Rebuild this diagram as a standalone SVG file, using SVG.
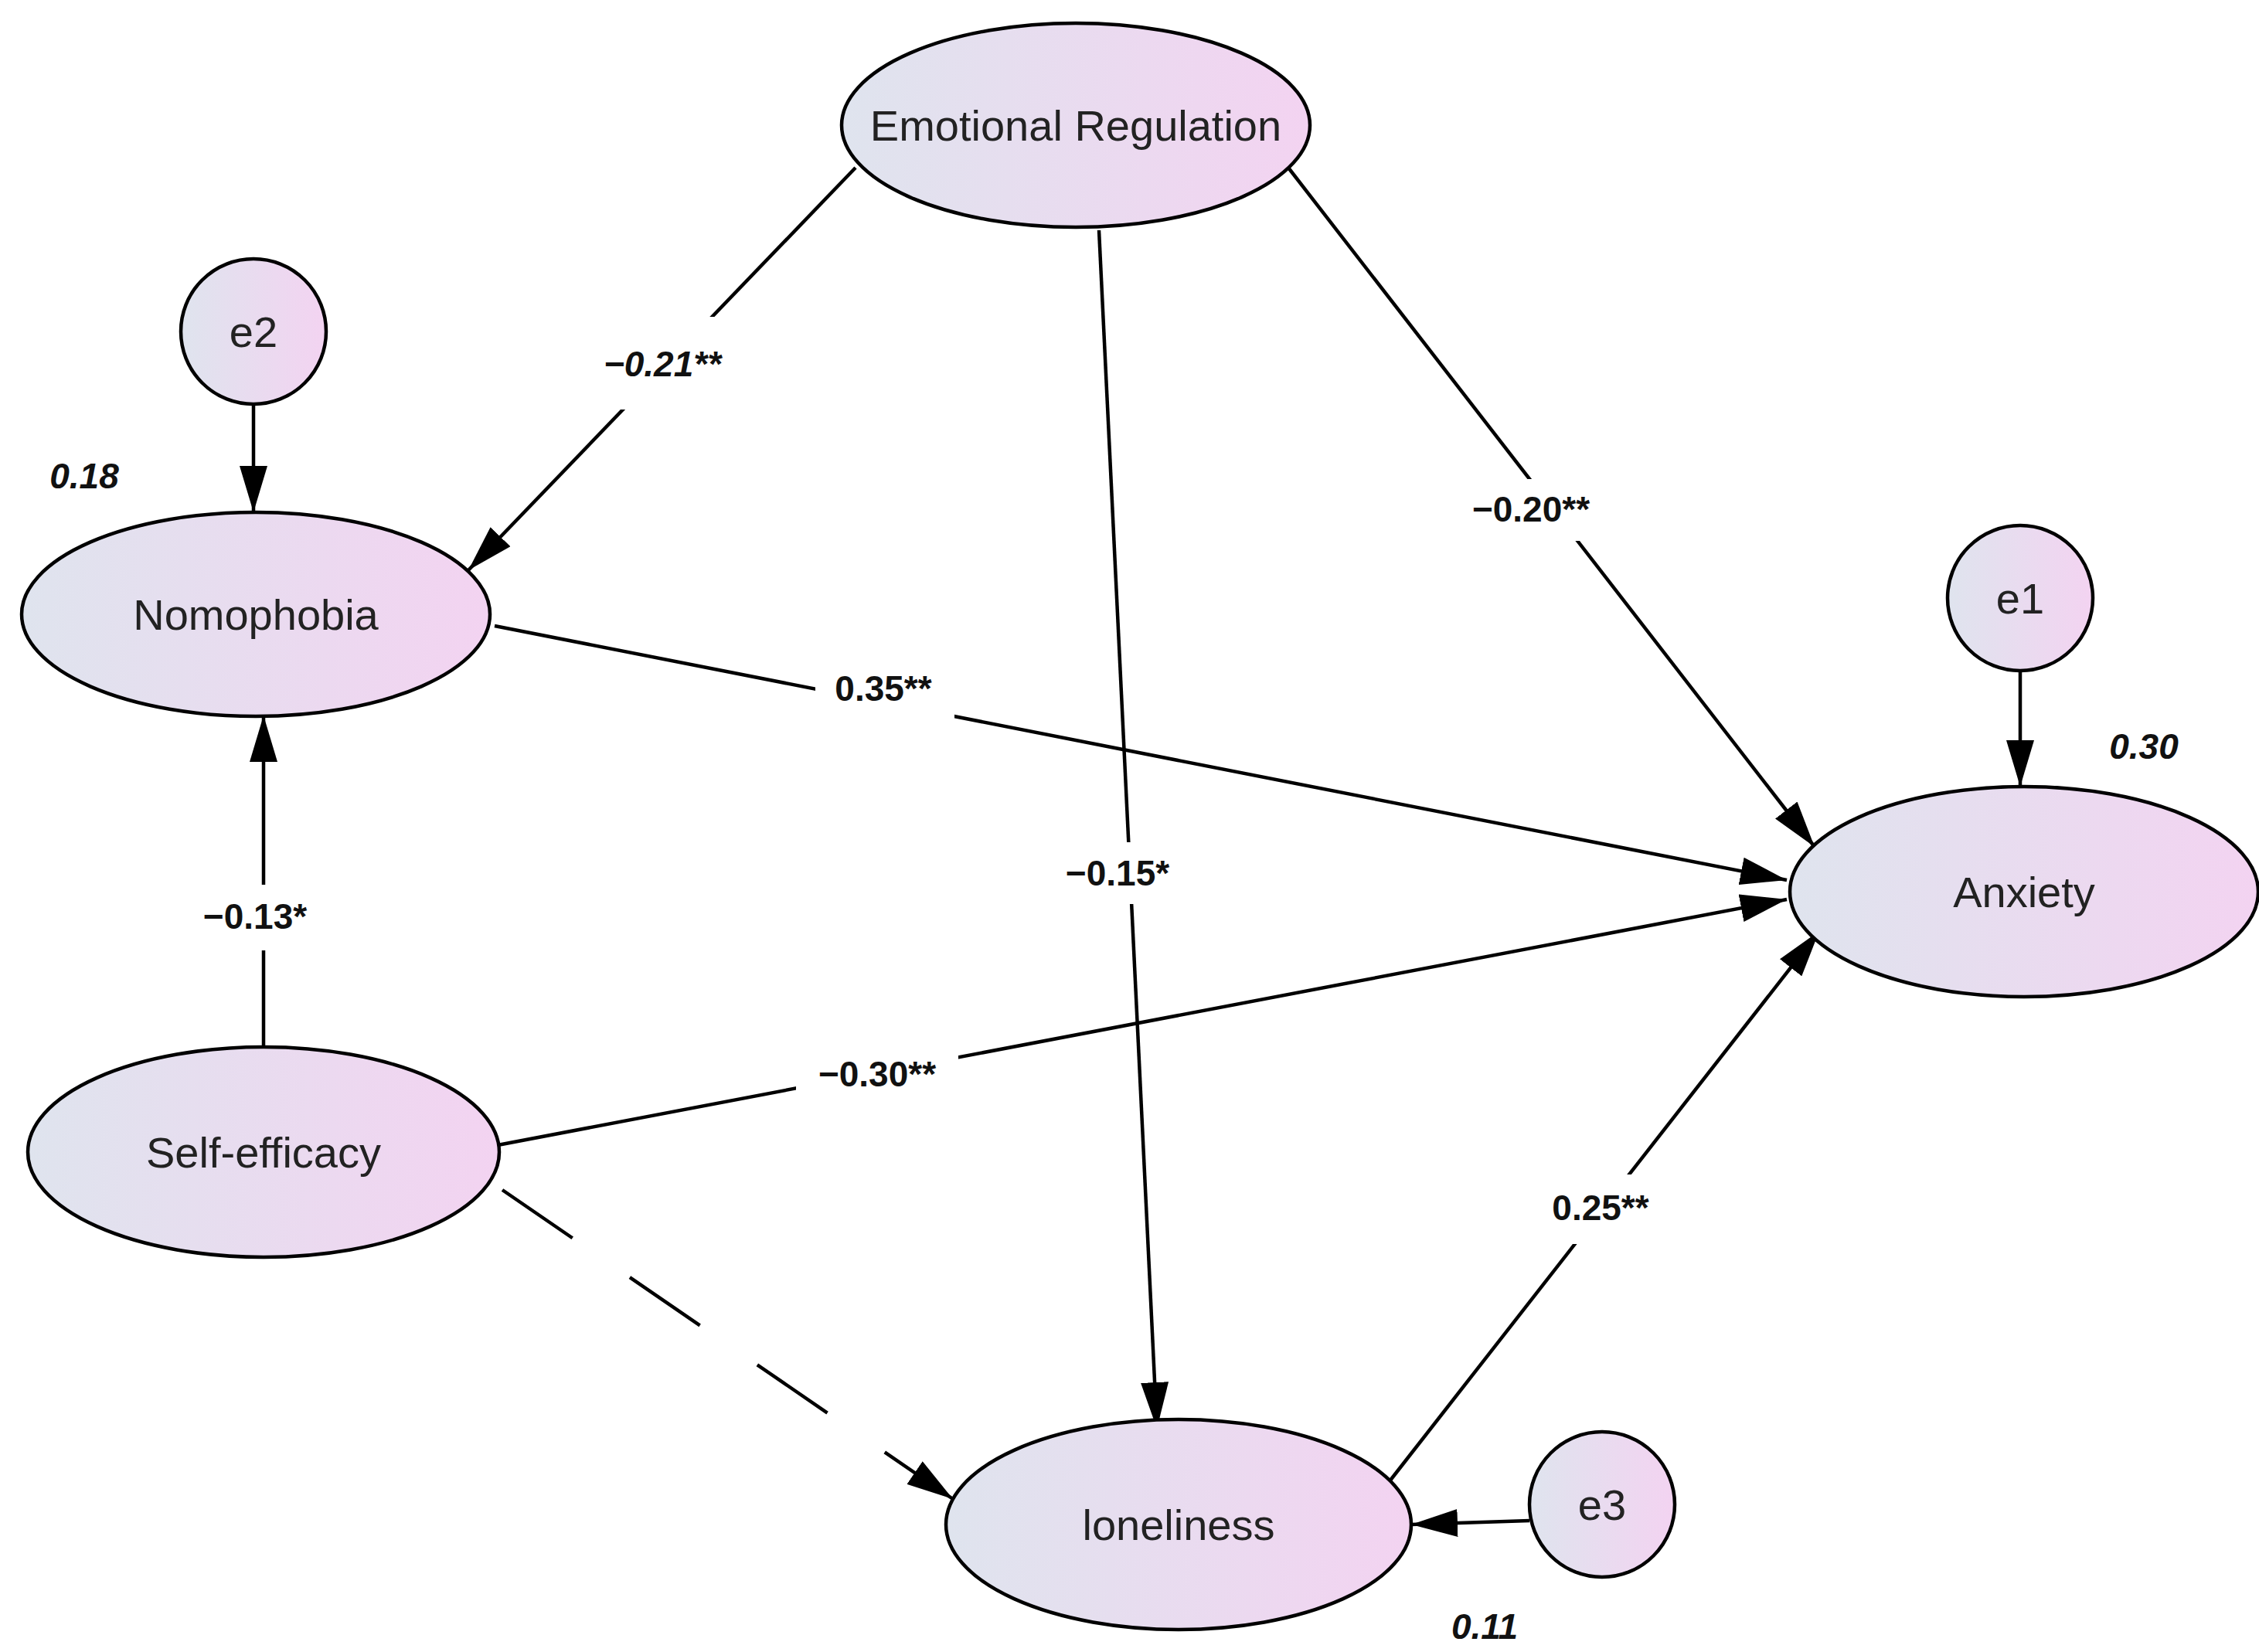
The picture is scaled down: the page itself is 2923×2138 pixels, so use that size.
<svg xmlns="http://www.w3.org/2000/svg" width="2923" height="2138" viewBox="0 0 2923 2138">
<defs>
<linearGradient id="g" x1="0" y1="0" x2="1" y2="0"><stop offset="0" stop-color="#dfe4ee"/><stop offset="1" stop-color="#f3d3f1"/></linearGradient>
<marker id="a" viewBox="0 0 60 36" refX="60" refY="18" markerWidth="60" markerHeight="36" markerUnits="userSpaceOnUse" orient="auto"><path d="M0,0 L60,18 L0,36 Z" fill="#000"/></marker>
<style>
.n{fill:url(#g);stroke:#000;stroke-width:4.5}
.t{font-family:"Liberation Sans",Arial,sans-serif;font-size:56px;fill:#222;text-anchor:middle;dominant-baseline:central}
.c line{stroke:#000;stroke-width:4.5;marker-end:url(#a)}
.l{font-family:"Liberation Sans",Arial,sans-serif;font-size:46px;font-weight:bold;fill:#111;text-anchor:middle;dominant-baseline:central}
.i{font-style:italic}
.bg{fill:#fff}
</style>
</defs>
<rect width="2923" height="2138" fill="#fff"/>
<g id="connectors" class="c">
<line x1="1107" y1="217" x2="606" y2="738"/>
<line x1="1422" y1="298" x2="1497" y2="1849"/>
<line x1="1667" y1="217" x2="2348" y2="1096"/>
<line x1="640" y1="810" x2="2312" y2="1139"/>
<line x1="644" y1="1482" x2="2312" y2="1164"/>
<line x1="341" y1="1361" x2="341" y2="926"/>
<line x1="650" y1="1540" x2="1233" y2="1940" stroke-dasharray="110,90"/>
<line x1="1798" y1="1917" x2="2354" y2="1205"/>
<line x1="328" y1="523" x2="328" y2="663"/>
<line x1="2614" y1="868" x2="2614" y2="1018"/>
<line x1="1979" y1="1968" x2="1826" y2="1973"/>
</g>
<g id="labels">
<rect class="bg" x="780" y="410" width="160" height="120"/><text class="l i" x="857" y="471">−0.21**</text>
<rect class="bg" x="1370" y="1090" width="150" height="80"/><text class="l" x="1446" y="1130">−0.15*</text>
<rect class="bg" x="1890" y="620" width="180" height="80"/><text class="l" x="1981" y="659">−0.20**</text>
<rect class="bg" x="1055" y="850" width="180" height="80"/><text class="l" x="1143" y="891">0.35**</text>
<rect class="bg" x="1030" y="1350" width="210" height="80"/><text class="l" x="1135" y="1390">−0.30**</text>
<rect class="bg" x="250" y="1145" width="160" height="85"/><text class="l" x="330" y="1186">−0.13*</text>
<rect class="bg" x="1980" y="1520" width="180" height="90"/><text class="l" x="2071" y="1563">0.25**</text>
<text class="l i" x="109" y="616">0.18</text>
<text class="l i" x="2774" y="966">0.30</text>
<text class="l i" x="1921" y="2105">0.11</text>
</g>
<g id="er"><ellipse class="n" cx="1392" cy="162" rx="303" ry="132"/><text class="t" x="1392" y="162">Emotional Regulation</text></g>
<g id="e2"><circle class="n" cx="328" cy="429" r="94"/><text class="t" x="328" y="429">e2</text></g>
<g id="nomophobia"><ellipse class="n" cx="331" cy="795" rx="303" ry="132"/><text class="t" x="331" y="795">Nomophobia</text></g>
<g id="e1"><circle class="n" cx="2614" cy="774" r="94"/><text class="t" x="2614" y="774">e1</text></g>
<g id="anxiety"><ellipse class="n" cx="2619" cy="1154" rx="303" ry="136"/><text class="t" x="2619" y="1154">Anxiety</text></g>
<g id="selfefficacy"><ellipse class="n" cx="341" cy="1491" rx="305" ry="136"/><text class="t" x="341" y="1491">Self-efficacy</text></g>
<g id="loneliness"><ellipse class="n" cx="1525" cy="1973" rx="301" ry="136"/><text class="t" x="1525" y="1973">loneliness</text></g>
<g id="e3"><circle class="n" cx="2073" cy="1947" r="94"/><text class="t" x="2073" y="1947">e3</text></g>
</svg>
